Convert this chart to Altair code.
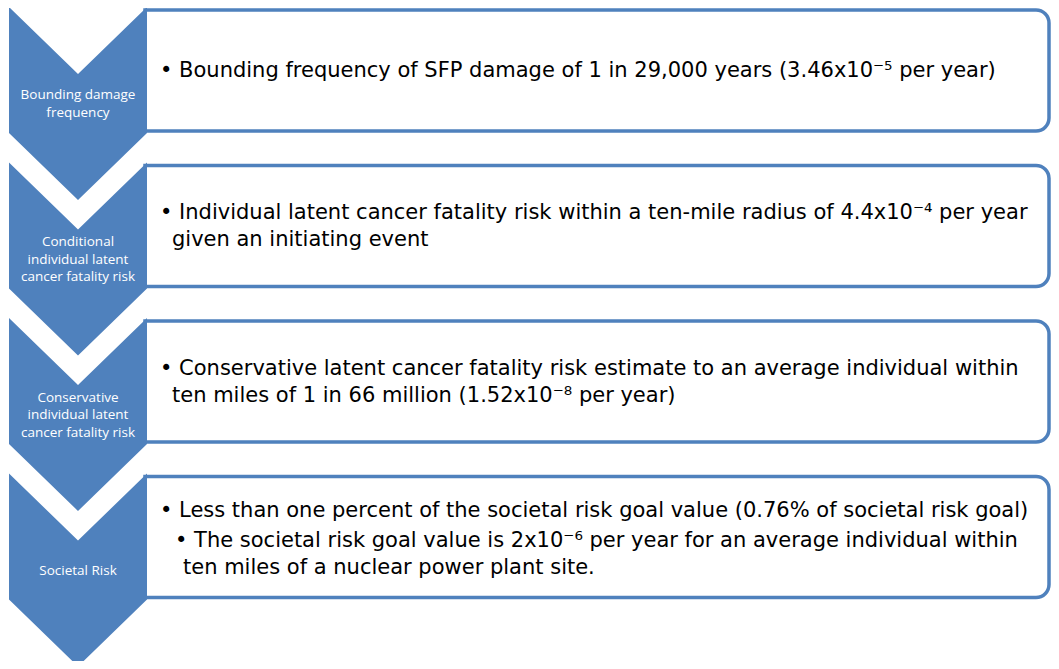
import altair as alt
import pandas as pd

# ---- content -------------------------------------------------------------
stages = [
    "Bounding damage\nfrequency",
    "Conditional\nindividual latent\ncancer fatality risk",
    "Conservative\nindividual  latent\ncancer fatality risk",
    "Societal Risk",
]

detail_text = [
    ["•  Bounding frequency of SFP damage of 1 in 29,000 years (3.46x10⁻⁵ per year)"],
    ["•  Individual latent cancer fatality risk within a ten-mile radius of 4.4x10⁻⁴ per year",
     "given an initiating event"],
    ["•  Conservative latent cancer fatality risk estimate to an average individual within",
     "ten miles of 1 in 66 million (1.52x10⁻⁸ per year)"],
    ["•  Less than one percent of the societal risk goal value (0.76% of societal risk goal)",
     "•   The societal risk goal value is 2x10⁻⁶ per year for an average individual within",
     "ten miles of a nuclear power plant site."],
]
# outline level of each line: 0 first bullet, 1 wrapped line, 2 sub-bullet, 3 wrapped sub-bullet
detail_level = [[0], [0, 1], [0, 1], [0, 2, 3]]

# ---- layout --------------------------------------------------------------
BLUE = "#4F81BD"
LAB_FONT = "Open Sans"
TXT_FONT = "DejaVu Sans"
W, H = 1043, 653
X_DOM = [8, 8 + W]
Y_DOM = [8, 8 + H]
STEP = 155.5
CH_TOP0 = 7
CH_LEFT, CH_MID, CH_RIGHT = 9, 78, 147
SIDE = 126
DEPTH = 67
BOX_LEFT, BOX_RIGHT = 145, 1049
BOX_H = 121
LINE = 27
LAB_LH = 17.5
INDENT = {0: 160, 1: 172, 2: 175, 3: 183}

chev_rows, box_rows, lab_rows, txt_rows = [], [], [], []
for i, label in enumerate(stages):
    top = CH_TOP0 + STEP * i
    for x, dy in ((CH_LEFT, 0), (CH_MID, DEPTH), (CH_RIGHT, 0)):
        chev_rows.append({"stage": i, "x": x, "y": top + dy, "y2": top + SIDE + dy})
    btop = top + 3
    box_rows.append({"stage": i, "x": BOX_LEFT, "x2": BOX_RIGHT, "y": btop, "y2": btop + BOX_H})
    nl = label.count("\n") + 1
    lab_rows.append({"stage": i, "x": CH_MID, "y": top + 97 - (nl - 1) * LAB_LH / 2, "label": label})
    lines = detail_text[i]
    n = len(lines)
    y = btop + 67 - (n - 1) * LINE / 2
    for j, (t, lv) in enumerate(zip(lines, detail_level[i])):
        if lv == 2:
            y += 3
        txt_rows.append({"stage": i, "x": INDENT[lv], "y": y, "text": t})
        y += LINE

chev = pd.DataFrame(chev_rows)
boxes = pd.DataFrame(box_rows)
labs = pd.DataFrame(lab_rows)
txt = pd.DataFrame(txt_rows)

xs = alt.Scale(domain=X_DOM, nice=False, zero=False)
ys = alt.Scale(domain=Y_DOM, nice=False, zero=False, reverse=True)
noax = None

box_layer = alt.Chart(boxes).mark_rect(
    fill="white", stroke=BLUE, strokeWidth=3.5,
    cornerRadiusTopRight=13, cornerRadiusBottomRight=13, clip=True,
).encode(
    x=alt.X("x:Q", scale=xs, axis=noax), x2="x2:Q",
    y=alt.Y("y:Q", scale=ys, axis=noax), y2="y2:Q",
)

chev_layer = alt.Chart(chev).mark_area(
    color=BLUE, fill=BLUE, opacity=1, clip=True, interpolate="linear", orient="vertical",
).encode(
    x=alt.X("x:Q", scale=xs, axis=noax),
    y=alt.Y("y:Q", scale=ys, axis=noax, stack=None),
    y2="y2:Q",
    detail="stage:N",
)

lab_layer = alt.Chart(labs).mark_text(
    align="center", baseline="middle", lineBreak="\n", color="white",
    font=LAB_FONT, fontSize=13.5, lineHeight=LAB_LH,
).encode(
    x=alt.X("x:Q", scale=xs, axis=noax),
    y=alt.Y("y:Q", scale=ys, axis=noax),
    text="label:N",
)

txt_layer = alt.Chart(txt).mark_text(
    align="left", baseline="alphabetic", color="black",
    font=TXT_FONT, fontSize=21,
).encode(
    x=alt.X("x:Q", scale=xs, axis=noax),
    y=alt.Y("y:Q", scale=ys, axis=noax),
    text="text:N",
)

chart = alt.layer(box_layer, chev_layer, lab_layer, txt_layer).properties(
    width=W, height=H, padding=0, background="white",
).configure_view(strokeWidth=0)

chart.save("out.html", embed_options={"renderer": "svg", "actions": False})
